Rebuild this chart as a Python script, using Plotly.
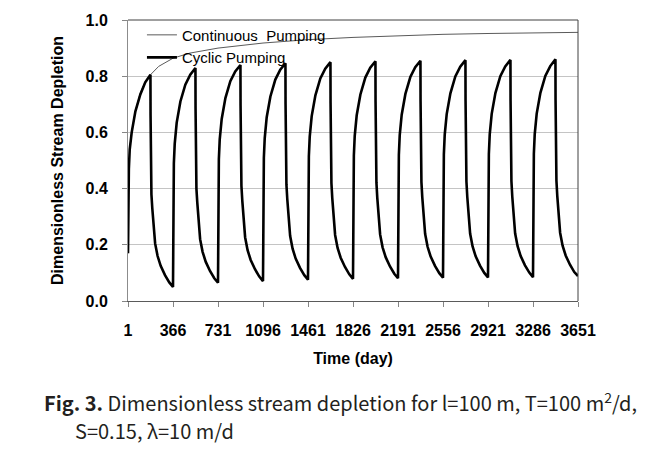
import plotly.graph_objects as go

# ---------------- data ----------------
cycle_start_days = [1, 366, 731, 1096, 1461, 1826, 2191, 2556, 2921, 3286]
tick_days = [1, 366, 731, 1096, 1461, 1826, 2191, 2556, 2921, 3286, 3651]
tick_labels = ["1", "366", "731", "1096", "1461", "1826", "2191", "2556", "2921", "3286", "3651"]

# days after the start of each yearly cycle (pumping on, then off)
rise_offsets = [0, 1, 3, 7, 14, 30, 60, 100, 140, 182]
fall_offsets = [183, 184, 186, 190, 197, 205, 220, 240, 265, 300, 335]

rise_c1 = [0.17, 0.28, 0.38, 0.47, 0.54, 0.60, 0.675, 0.735, 0.778, 0.805]
rise_c2 = [0.050, 0.22, 0.38, 0.49, 0.56, 0.635, 0.71, 0.77, 0.805, 0.829]
rise_c3 = [0.065, 0.235, 0.395, 0.505, 0.575, 0.648, 0.722, 0.782, 0.817, 0.840]
rise_c4 = [0.071, 0.24, 0.40, 0.51, 0.58, 0.654, 0.728, 0.788, 0.823, 0.846]
rise_c5 = [0.076, 0.245, 0.405, 0.515, 0.585, 0.658, 0.732, 0.792, 0.827, 0.850]
rise_c6 = [0.079, 0.248, 0.408, 0.518, 0.588, 0.661, 0.735, 0.795, 0.830, 0.853]
rise_c7 = [0.081, 0.25, 0.41, 0.52, 0.59, 0.663, 0.737, 0.797, 0.832, 0.855]
rise_c8 = [0.083, 0.252, 0.412, 0.522, 0.592, 0.665, 0.739, 0.799, 0.834, 0.857]
rise_c9 = [0.084, 0.253, 0.413, 0.523, 0.593, 0.666, 0.740, 0.800, 0.835, 0.858]
rise_c10 = [0.085, 0.254, 0.414, 0.524, 0.594, 0.667, 0.741, 0.801, 0.836, 0.860]

fall_c1 = [0.66, 0.55, 0.45, 0.38, 0.33, 0.285, 0.205, 0.16, 0.125, 0.092, 0.066]
fall_c2 = [0.685, 0.575, 0.47, 0.40, 0.35, 0.30, 0.22, 0.175, 0.14, 0.107, 0.081]
fall_c3 = [0.695, 0.585, 0.48, 0.41, 0.357, 0.307, 0.227, 0.181, 0.146, 0.113, 0.087]
fall_c4 = [0.70, 0.59, 0.485, 0.415, 0.362, 0.312, 0.232, 0.186, 0.151, 0.118, 0.092]
fall_c5 = [0.705, 0.595, 0.49, 0.42, 0.365, 0.315, 0.235, 0.189, 0.154, 0.121, 0.095]
fall_c6 = [0.708, 0.598, 0.492, 0.422, 0.367, 0.317, 0.237, 0.191, 0.156, 0.123, 0.097]
fall_c7 = [0.71, 0.60, 0.494, 0.424, 0.369, 0.319, 0.239, 0.193, 0.158, 0.125, 0.099]
fall_c8 = [0.712, 0.602, 0.496, 0.426, 0.37, 0.32, 0.24, 0.194, 0.159, 0.126, 0.100]
fall_c9 = [0.713, 0.603, 0.497, 0.427, 0.371, 0.321, 0.241, 0.195, 0.160, 0.127, 0.101]
fall_c10 = [0.715, 0.605, 0.499, 0.429, 0.373, 0.323, 0.243, 0.197, 0.162, 0.129, 0.103]

end_day = 3651
end_value = 0.089

continuous_days = [1, 3, 7, 15, 30, 60, 100, 140, 183, 250, 366, 500, 731, 1096,
                   1461, 1826, 2191, 2556, 2921, 3286, 3651]
continuous_values = [0.17, 0.36, 0.47, 0.545, 0.60, 0.675, 0.74, 0.78, 0.805, 0.835,
                     0.864, 0.882, 0.90, 0.918, 0.930, 0.938, 0.944, 0.949, 0.952,
                     0.954, 0.956]

rises = [rise_c1, rise_c2, rise_c3, rise_c4, rise_c5, rise_c6, rise_c7, rise_c8, rise_c9, rise_c10]
falls = [fall_c1, fall_c2, fall_c3, fall_c4, fall_c5, fall_c6, fall_c7, fall_c8, fall_c9, fall_c10]

cyc_x, cyc_y = [], []
for start, r, f in zip(cycle_start_days, rises, falls):
    cyc_x += [start + o for o in rise_offsets]
    cyc_y += r
    cyc_x += [start + o for o in fall_offsets]
    cyc_y += f
cyc_x.append(end_day)
cyc_y.append(end_value)

# ---------------- figure ----------------
FONT = "Liberation Sans"
fig = go.Figure()
fig.add_trace(go.Scatter(x=continuous_days, y=continuous_values, mode="lines",
                         name="Continuous  Pumping",
                         line=dict(color="#5a5a5a", width=1)))
fig.add_trace(go.Scatter(x=cyc_x, y=cyc_y, mode="lines", name="Cyclic Pumping",
                         line=dict(color="#000000", width=2.6)))

fig.update_xaxes(range=[1, 3651], tickvals=tick_days, ticktext=tick_labels,
                 ticks="outside", ticklen=5, tickcolor="#868686",
                 showline=True, linecolor="#5a5a5a", linewidth=1,
                 showgrid=False, zeroline=False,
                 tickfont=dict(family=FONT, size=16, color="#000", weight="bold"),
                 ticklabelstandoff=10,
                 title=dict(text="Time (day)", standoff=14,
                            font=dict(family=FONT, size=16, color="#000", weight="bold")))
fig.update_yaxes(range=[0, 1], dtick=0.2, tickformat=".1f",
                 ticks="outside", ticklen=5, tickcolor="#868686",
                 showline=True, linecolor="#8c8c8c", linewidth=1,
                 showgrid=True, gridcolor="#c4c4c4", gridwidth=1, zeroline=False,
                 tickfont=dict(family=FONT, size=16, color="#000", weight="bold"),
                 ticklabelstandoff=11,
                 title=dict(text="Dimensionless Stream Depletion", standoff=17,
                            font=dict(family=FONT, size=16, color="#000", weight="bold")))

# plot-area frame (top and right)
fig.add_shape(type="line", xref="paper", yref="paper", x0=0, x1=1, y0=1, y1=1,
              line=dict(color="#404040", width=1))
fig.add_shape(type="line", xref="paper", yref="paper", x0=1, x1=1, y0=0, y1=1,
              line=dict(color="#404040", width=1))

fig.update_layout(
    width=656, height=449,
    margin=dict(l=128, r=78, t=18, b=148),
    paper_bgcolor="white", plot_bgcolor="white",
    showlegend=True,
    legend=dict(x=0.031, y=1.005, xanchor="left", yanchor="top",
                bgcolor="rgba(0,0,0,0)", borderwidth=0,
                font=dict(family=FONT, size=15, color="#000"),
                itemwidth=30, tracegroupgap=0),
)

CAP_FONT = "Noto Sans CJK KR"
fig.add_annotation(xref="paper", yref="paper", x=(42 - 128) / 450, y=(301 - 403) / 283,
                   xanchor="left", yanchor="middle", showarrow=False,
                   text="<b>Fig. 3.</b> Dimensionless stream depletion for l=100 m, T=100 m<sup>2</sup>/d,",
                   font=dict(family=CAP_FONT, size=20, color="#231f20"))
fig.add_annotation(xref="paper", yref="paper", x=(73 - 128) / 450, y=(301 - 431) / 283,
                   xanchor="left", yanchor="middle", showarrow=False,
                   text="S=0.15, λ=10 m/d",
                   font=dict(family=CAP_FONT, size=20, color="#231f20"))

fig.write_html("out.html", config={"displayModeBar": False},
               post_script="document.body.style.margin='0';document.body.style.overflow='hidden';")
